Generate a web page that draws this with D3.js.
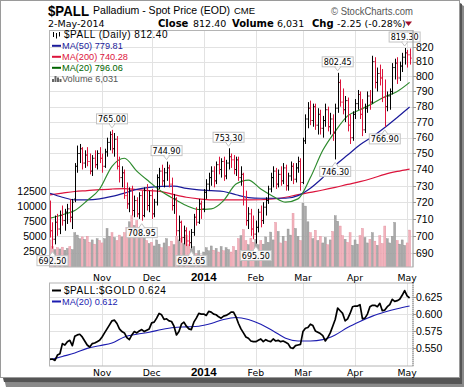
<!DOCTYPE html>
<html><head><meta charset="utf-8">
<script src="https://cdn.jsdelivr.net/npm/d3@7"></script>
<style>
body{margin:0;background:#fff}
svg{display:block}
text{font-family:"Liberation Sans",Arial,sans-serif}
.dv{font-family:"DejaVu Sans",Verdana,sans-serif}
</style>
</head><body><svg id="c" width="464" height="387"></svg>
<script>
// ---------------- DATA ----------------
const prevClose = 710;
const open = [712,703,698,708,704,712,709,714,716,711,722,742,750,753,744,749,745,739,747,743,750,747,742,751,757,762,753,759,742,735,738,724,719,727,715,721,713,724,712,727,718,724,713,720,735,739,733,738,741,731,718,722,703,708,699,703,697,696,702,711,708,719,716,726,731,735,739,733,743,740,745,736,744,748,746,740,746,735,737,722,709,713,704,701,705,714,709,717,721,728,735,739,731,737,733,741,730,736,742,734,741,745,732,758,772,779,771,780,768,775,766,771,778,767,772,763,779,796,783,778,784,768,760,775,782,788,775,765,779,787,783,810,796,802,799,786,780,787,790,806,809,799,807,813,816,814.65];
const high = [721,708,712,713,715,718,716,719,722,722,744,755,756,754,752,754,750,749,752,752,754,750,753,760,764,765,763,761,748,742,740,732,729,730,724,723,726,727,729,731,727,728,722,737,741,743,741,744.9,743,735,725,723,712,709,706,705,703,704,713,717,722,721,728,734,738,742,742,745,748,747,748,746,753.3,750,749,748,748,742,738,727,717,716,712,709,716,718,720,723,730,738,742,741,740,742,744,743,738,745,744,744,748,747,760,775,783,784,782,782,779,778,774,782,780,776,775,782,802.45,798,792,787,786,775,777,785,791,790,785,782,790,791,814,813,806,808,805,798,790,792,809,812,813,810,816,819.3,818,819];
const low = [699,692.5,695,700,701,706,703,707,708,704,720,738,744,740,741,742,737,736,741,740,744,738,741,748,752,750,748,740,732,729,722,716,714,712,711,711,710,708.95,711,715,714,710,711,718,728,730,729,733,729,715,713,700,697,696,695,694,694,692.65,700,706,707,710,714,722,727,730,729,731,737,735,733,734,740,741,737,736,733,730,718,706,704,700,698,695.5,702,705,707,712,719,726,729,728,729,730,731,727,727,733,731,732,738,727,731,756,766,768,767,765,762,762,760,767,764,762,758,746.3,776,780,775,770,764,756,758,772,778,772,761,763,776,778,782,792,790,794,783,766.9,777,778,788,798,795,797,803,808,806,808];
const close = [703,698,708,704,712,709,714,716,711,720,742,750,753,744,749,745,739,747,743,750,747,742,751,757,762,753,759,742,735,738,724,719,727,715,721,713,724,712,727,718,724,713,720,735,739,733,738,741,731,718,722,703,708,699,703,697,696,702,711,708,719,716,726,731,735,739,733,743,740,745,736,744,748,746,740,746,735,737,722,709,713,704,701,705,714,709,717,721,728,735,739,731,737,733,741,730,736,742,734,741,745,732,758,772,779,771,780,768,775,766,771,778,767,772,763,779,796,783,778,784,768,760,775,782,788,775,765,779,787,783,810,796,802,799,786,780,787,790,806,809,799,807,813,816,814.65,812.4];
const volume = [4400,3300,2800,3100,2900,3200,2700,3000,3300,2800,
5600,5200,4600,4900,4500,5000,
4000,4400,3700,4600,4300,3900,4600,
6300,5000,5600,4800,4300,5200,4900,
5600,6500,7400,8400,6800,7600,6200,5400,4800,4300,3800,
4000,3400,4400,3700,3100,3900,4600,3300,4200,3600,5000,4400,
4700,3800,5200,3600,2900,3300,2100,2600,1900,
2400,3100,2600,3400,2700,3000,2400,3300,2600,3100,2800,2400,
3300,2700,4600,5100,6100,4300,3600,4700,4000,4500,3600,
4300,3700,4900,4000,5700,4400,7300,5800,3900,5000,4200,6200,5200,8800,6300,5000,4300,
10500,10000,7400,5600,4600,6000,4300,5000,3900,4800,3600,4400,5800,
8400,7500,6700,5100,4500,4000,5600,3500,4400,3700,5100,6300,4800,3900,
4500,5600,4200,3500,5100,3800,6700,4600,3900,5000,7300,4300,3700,4400,3500,3900,6031];
const ratio = [.533,.533,.531,.539,.541,.556,.554,.559,.561,.553,.567,.569,.570,.566,.560,.554,.551,.556,.557,.559,
.561,.566,.572,.578,.584,.590,.591,.586,.578,.574,.572,.565,.562,.569,.574,.572,.575,.577,.574,.576,
.578,.587,.588,.594,.601,.599,.592,.593,.590,.589,.582,.569,.574,.585,.588,.582,.578,.577,.588,.594,
.601,.600,.600,.598,.604,.603,.600,.599,.596,.594,.597,.598,.600,.603,.603,.596,.586,.578,.572,.566,
.564,.560,.559,.559,.561,.563,.559,.562,.560,.559,.563,.560,.561,.559,.560,.558,.556,.550,.549,.553,
.554,.555,.574,.579,.580,.585,.583,.575,.573,.571,.568,.560,.565,.572,.582,.592,.609,.605,.601,.590,
.593,.601,.611,.612,.612,.614,.593,.594,.600,.611,.613,.613,.611,.616,.605,.606,.611,.614,.622,.619,
.620,.622,.628,.635,.627,.624];
// moving averages read every maStep bars
const maStep = 5;
const ma20  = [710.4,712.5,715,721,728,742,747,739,732.5,726.5,722,718,715.6,716,721,731,733.5,728,723.5,720,722,735,752,764,774,778,782,786.5,790,796.06];
const ma50  = [725.4,723,721.4,721.4,722,723.5,725.5,727.8,729,729.6,729.8,728.4,727.5,727,726.5,724.5,722.8,722.4,722.4,722.4,724,728.5,735,742.5,749,755.5,760.6,766.5,773,779.81];
const ma200 = [724.4,725.5,726.5,727,727.6,728,728.3,727.6,727,726.4,724.6,723,722,721.4,721.4,721.4,721.4,721.5,722,723,724.6,726,727.4,729,730.8,732.5,734.6,737,738.8,740.28];
const ratioMa20 = [.532,.537,.542,.549,.553,.557,.566,.570,.573,.577,.580,.581,.582,.586,.592,.595,.592,.585,.575,.564,.560,.560,.562,.569,.580,.589,.597,.603,.608,.612];
const monthLabels = ["Nov","Dec","2014","Feb","Mar","Apr","May"];
const monthIdx = [21,41,62,83,102,123,144];
const priceTicks = [690,700,710,720,730,740,750,760,770,780,790,800,810,820];
const volTicks = [2500,5000,7500,10000,12500];
const ratioTicks = [0.550,0.575,0.600,0.625];
const annotations = [
  {i:1,v:692.50,k:"low"},{i:25,v:765.00,k:"high"},{i:37,v:708.95,k:"low"},{i:47,v:744.90,k:"high"},
  {i:57,v:692.65,k:"low"},{i:72,v:753.30,k:"high"},{i:83,v:695.50,k:"low"},{i:115,v:746.30,k:"low"},
  {i:116,v:802.45,k:"high"},{i:135,v:766.90,k:"low"},{i:143,v:819.30,k:"high"}];

// ---------------- DRAW ----------------
const svg = d3.select("#c");
const RED="#dc143c", BLK="#000", NAVY="#1a1a9a", GRN="#2e8b2e";
const M={l:49,r:413,t:30.5,b:267}, L={t:283,b:366};
const x = d3.scaleLinear().domain([0,close.length-1]).range([50,409.6]);
const yP = d3.scaleLog().domain([690,820]).range([253,47]);
const yV = d3.scaleLinear().domain([0,12500]).range([266.5,191]);
const yR = d3.scaleLinear().domain([0.55,0.625]).range([347.7,297.3]);
const up = close.map((c,i)=> c >= (i? close[i-1] : prevClose));

// outer frame + shadow
svg.append("polygon").attr("points","4,378 460,378 460,4 464,6 464,387 6,387").attr("fill","#8a8a8a");
svg.append("polygon").attr("points","3,378 460,378 460,3 462,4 462,384 4,382").attr("fill","#555");
svg.append("rect").attr("x",0.5).attr("y",0.5).attr("width",459).attr("height",377).attr("fill","#fff").attr("stroke","#9a9a9a");

// panels
[[M.t,M.b],[L.t,L.b]].forEach(([t,b])=>{
  svg.append("rect").attr("x",M.l).attr("y",t).attr("width",M.r-M.l).attr("height",b-t).attr("fill","#fff");
});
const grid = svg.append("g").attr("stroke","#e2e2e2").attr("stroke-width",1);
priceTicks.forEach(p=>grid.append("line").attr("x1",M.l).attr("x2",M.r).attr("y1",Math.round(yP(p))+.5).attr("y2",Math.round(yP(p))+.5));
ratioTicks.forEach(p=>grid.append("line").attr("x1",M.l).attr("x2",M.r).attr("y1",Math.round(yR(p))+.5).attr("y2",Math.round(yR(p))+.5));
monthIdx.forEach(i=>{
  const xx=Math.round(x(i))+.5;
  grid.append("line").attr("x1",xx).attr("x2",xx).attr("y1",M.t).attr("y2",M.b);
  grid.append("line").attr("x1",xx).attr("x2",xx).attr("y1",L.t).attr("y2",L.b);
});

svg.append("clipPath").attr("id","cm").append("rect").attr("x",M.l).attr("y",M.t).attr("width",M.r-M.l).attr("height",M.b-M.t);
svg.append("clipPath").attr("id","cl").append("rect").attr("x",M.l).attr("y",L.t).attr("width",M.r-M.l).attr("height",L.b-L.t);
const gm = svg.append("g").attr("clip-path","url(#cm)");
const gl = svg.append("g").attr("clip-path","url(#cl)");

// volume
gm.append("g").selectAll("rect").data(volume).join("rect")
  .attr("x",(d,i)=>x(i)-1).attr("width",2)
  .attr("y",d=>yV(d)).attr("height",d=>yV(0)-yV(d)+1)
  .attr("fill",(d,i)=>up[i]?"#a9a9a9":"#f2b3bd")
  .attr("stroke",(d,i)=>up[i]?"#8f8f8f":"#e28d9c").attr("stroke-width",0.4);

// moving averages
const maLine = d3.line().x((d,k)=>x(k*maStep)).y(d=>yP(d)).curve(d3.curveMonotoneX);
[[ma200,RED],[ma50,NAVY],[ma20,GRN]].forEach(([a,c])=>
  gm.append("path").attr("d",maLine(a)).attr("fill","none").attr("stroke",c).attr("stroke-width",1.2));

// OHLC bars
const gb = gm.append("g").attr("stroke-width",1);
close.forEach((c,i)=>{
  const xx=Math.round(x(i))+.5, col=up[i]?BLK:RED;
  gb.append("line").attr("x1",xx).attr("x2",xx).attr("y1",yP(high[i])).attr("y2",yP(low[i])).attr("stroke",col);
  gb.append("line").attr("x1",xx-1.2).attr("x2",xx).attr("y1",yP(open[i])).attr("y2",yP(open[i])).attr("stroke",col);
  gb.append("line").attr("x1",xx).attr("x2",xx+1.2).attr("y1",yP(c)).attr("y2",yP(c)).attr("stroke",col);
});

// annotations
const ga = svg.append("g");
annotations.forEach(a=>{
  const cx=x(a.i), yy=yP(a.v), bw=31, bh=10;
  const top = a.k==="high" ? yy-16 : yy+7;
  ga.append("rect").attr("x",cx-bw/2).attr("y",top).attr("width",bw).attr("height",bh)
    .attr("fill","#fff").attr("fill-opacity",0.9).attr("stroke","#c4c4c4");
  const pts = a.k==="high" ? [[cx-3,top+bh],[cx+3,top+bh],[cx,top+bh+4]] : [[cx-3,top],[cx+3,top],[cx,top-4]];
  ga.append("polygon").attr("points",pts.join(" ")).attr("fill","#fff").attr("stroke","#c4c4c4");
  ga.append("line").attr("x1",pts[0][0]+1).attr("x2",pts[1][0]-1).attr("y1",pts[0][1]).attr("y2",pts[0][1]).attr("stroke","#fff").attr("stroke-width",1.2);
  ga.append("text").attr("class","dv").attr("x",cx).attr("y",top+8.3).attr("text-anchor","middle")
    .attr("font-size",8).text(a.v.toFixed(2));
});

// ratio panel
const rLine = d3.line().x((d,i)=>x(i)).y(d=>yR(d));
const rMaLine = d3.line().x((d,k)=>x(k*maStep)).y(d=>yR(d)).curve(d3.curveMonotoneX);
gl.append("path").attr("d",rMaLine(ratioMa20)).attr("fill","none").attr("stroke","#1c1cb0").attr("stroke-width",1.1);
gl.append("path").attr("d",rLine(ratio)).attr("fill","none").attr("stroke","#000").attr("stroke-width",1.7).attr("stroke-linejoin","round");

// frames
[[M.t,M.b],[L.t,L.b]].forEach(([t,b])=>{
  svg.append("rect").attr("x",M.l+.5).attr("y",t).attr("width",M.r-M.l-.5).attr("height",b-t).attr("fill","none").attr("stroke","#b4b4b4");
  svg.append("line").attr("x1",M.r).attr("x2",M.r).attr("y1",t).attr("y2",b).attr("stroke","#888").attr("stroke-dasharray","1,1");
});

// axes labels
const ax = svg.append("g").attr("font-size",10.5).attr("fill","#000");
priceTicks.forEach(p=>{
  ax.append("text").attr("x",416).attr("y",yP(p)+3.8).text(p);
  svg.append("line").attr("x1",M.r).attr("x2",M.r+3).attr("y1",Math.round(yP(p))+.5).attr("y2",Math.round(yP(p))+.5).attr("stroke","#999");
});
volTicks.forEach(v=>ax.append("text").attr("x",46.5).attr("y",yV(v)+3.8).attr("text-anchor","end").text(v));
ratioTicks.forEach(r=>{
  ax.append("text").attr("x",416).attr("y",yR(r)+3.8).text(r.toFixed(3));
  svg.append("line").attr("x1",M.r).attr("x2",M.r+3).attr("y1",Math.round(yR(r))+.5).attr("y2",Math.round(yR(r))+.5).attr("stroke","#999");
});
monthLabels.forEach((m,k)=>{
  [280.5,376].forEach(yy=>{
    const t=svg.append("text").attr("x",x(monthIdx[k])).attr("y",yy).attr("text-anchor","middle").text(m);
    if(m==="2014") t.attr("font-weight","bold").attr("font-size",11.5);
    else t.attr("class","dv").attr("font-size",9.3);
  });
});

// header
svg.append("text").attr("x",48).attr("y",15.5).attr("font-weight","bold").attr("font-size",15)
  .attr("textLength",41).attr("lengthAdjust","spacingAndGlyphs").text("$PALL");
svg.append("text").attr("x",93).attr("y",14.3).attr("font-size",11)
  .attr("textLength",137).attr("lengthAdjust","spacingAndGlyphs").text("Palladium - Spot Price (EOD)");
svg.append("text").attr("x",234).attr("y",14).attr("font-size",9.5).text("CME");
svg.append("text").attr("x",331).attr("y",14.5).attr("font-size",10.5).attr("fill","#555")
  .attr("textLength",82).attr("lengthAdjust","spacingAndGlyphs").text("© StockCharts.com");
const h2 = (t,xx,b)=>svg.append("text").attr("class","dv").attr("x",xx).attr("y",26.8)
  .attr("font-size",b?10:9.5).attr("font-weight",b?"bold":"normal").text(t);
h2("2-May-2014",48); h2("Close",158,1); h2("812.40",193); h2("Volume",232,1); h2("6,031",277);
h2("Chg",312,1); h2("-2.25 (-0.28%)",337);
svg.append("polygon").attr("points","405,21.5 412,21.5 408.5,26").attr("fill","#a0102a");

// legend main
const lg = svg.append("g").attr("class","dv");
// OHLC icon
[[53,32,37],[56,33,38.5],[59,32,36.5]].forEach(([xx,a,b],k)=>{
  lg.append("line").attr("x1",xx+.5).attr("x2",xx+.5).attr("y1",a).attr("y2",b).attr("stroke","#000");
});
lg.append("text").attr("x",64).attr("y",38.3).attr("font-size",10).attr("letter-spacing",0.5).text("$PALL (Daily) 812.40");
const legItems=[["MA(50) 779.81",NAVY,49.3],["MA(200) 740.28",RED,60.3],["MA(20) 796.06","#006400",71.3]];
legItems.forEach(([t,c,yy])=>{
  lg.append("line").attr("x1",52).attr("x2",61).attr("y1",yy-3.5).attr("y2",yy-3.5).attr("stroke",c).attr("stroke-width",2);
  lg.append("text").attr("x",62).attr("y",yy).attr("font-size",9.2).attr("fill",c).text(t);
});
[[52,79,82],[54.5,76,82],[57,77.5,82],[59.5,79,82]].forEach(([xx,a,b])=>
  lg.append("rect").attr("x",xx).attr("y",a).attr("width",2).attr("height",b-a).attr("fill","#666"));
lg.append("text").attr("x",62).attr("y",82.3).attr("font-size",9.2).attr("fill","#555").text("Volume 6,031");

// legend lower
lg.append("line").attr("x1",52).attr("x2",61).attr("y1",290.5).attr("y2",290.5).attr("stroke","#000").attr("stroke-width",2);
lg.append("text").attr("x",64).attr("y",294.3).attr("font-size",10).attr("letter-spacing",0.5).text("$PALL:$GOLD 0.624");
lg.append("line").attr("x1",52).attr("x2",61).attr("y1",301.5).attr("y2",301.5).attr("stroke","#1c1cb0").attr("stroke-width",2);
lg.append("text").attr("x",62).attr("y",305.3).attr("font-size",9.2).attr("fill","#1c1cb0").text("MA(20) 0.612");
</script>
</body></html>
